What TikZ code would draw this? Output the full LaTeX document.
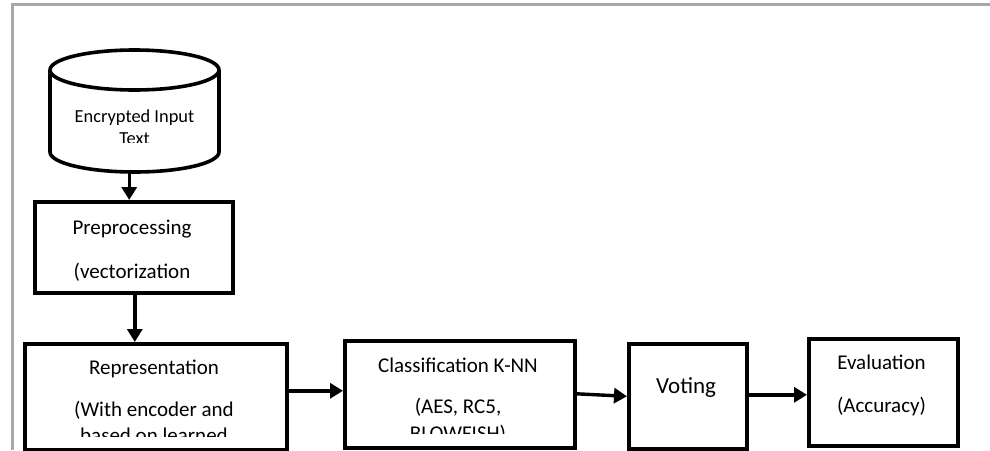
\documentclass[tikz,border=0pt]{standalone}
\usepackage{fontspec}
\setmainfont{Carlito}
\usetikzlibrary{arrows.meta}
\definecolor{framegray}{HTML}{A8A8A8}
\begin{document}
\begin{tikzpicture}[x=1pt,y=-1pt,
  box/.style={draw, line width=3.6pt, rectangle, inner sep=0pt, anchor=north west},
  conn/.style={line width=3.4pt, -{Triangle[length=13pt,width=15pt]}},
  lbl/.style={font=\fontsize{21}{25}\selectfont, inner sep=0pt, anchor=base},
  slbl/.style={font=\fontsize{18.4}{22}\selectfont, inner sep=0pt, anchor=base},
  vlbl/.style={font=\fontsize{23}{27}\selectfont, inner sep=0pt, anchor=base}]
\useasboundingbox (0,0) rectangle (990,450);
% outer frame
\draw[framegray, line width=3pt] (12,450) -- (12,4) -- (990,4);
% cylinder
\node[inner sep=0pt, minimum width=169pt, minimum height=122pt, anchor=north west] (db) at (50,50) {};
\draw[line width=3.6pt] (50,70) -- (50,152) arc[start angle=180, end angle=0, x radius=84.5, y radius=20] -- (219,70);
\draw[line width=3.6pt] (134.5,70) ellipse[x radius=84.5, y radius=20];
\begin{scope}
\clip (50,90) rectangle (219,142);
\node[slbl] (dbt1) at (134.5,122) {Encrypted Input};
\node[slbl] (dbt2) at (134.5,144.5) {Text};
\end{scope}
% boxes
\node[box, minimum width=198pt, minimum height=91pt] (pre) at (33,200) {};
\node[lbl] (pret1) at (132,234) {Preprocessing};
\node[lbl] (pret2) at (132,278) {(vectorization};

\node[box, minimum width=262pt, minimum height=106pt] (rep) at (23,342) {};
\begin{scope}
\clip (23,342) rectangle (285,436);
\node[lbl] (rept1) at (154,374) {Representation};
\node[lbl] (rept2) at (154,416) {(With encoder and};
\node[lbl] (rept3) at (154,442) {based on learned};
\end{scope}

\node[box, minimum width=230pt, minimum height=107pt] (cls) at (343,339) {};
\begin{scope}
\clip (343,339) rectangle (573,433);
\node[lbl] (clst1) at (458,372.5) {Classification K-NN};
\node[lbl] (clst2) at (458,413) {(AES, RC5,};
\node[lbl] (clst3) at (458,440) {BLOWFISH)};
\end{scope}

\node[box, minimum width=118pt, minimum height=105pt] (vot) at (627,342) {};
\node[vlbl] (vott) at (686,393) {Voting};

\node[box, minimum width=149pt, minimum height=107pt] (eva) at (807,337) {};
\node[lbl] (evat1) at (881.5,369) {Evaluation};
\node[lbl] (evat2) at (881.5,412) {(Accuracy)};

% connectors
\coordinate (a1s) at ([xshift=-5.5pt]db.south);
\draw[conn] (a1s) -- (a1s |- pre.north);
\coordinate (a2s) at ([xshift=1pt]pre.south);
\draw[conn] (a2s) -- (a2s |- rep.north);
\coordinate (a3s) at ([yshift=6pt]rep.east);
\draw[conn] (a3s) -- (a3s -| cls.west);
\coordinate (a4s) at ([yshift=0.5pt]cls.east);
\draw[conn] (a4s) -- ([yshift=0pt]vot.west);
\coordinate (a5s) at ([yshift=1.5pt]vot.east);
\draw[conn] (a5s) -- (a5s -| eva.west);
\end{tikzpicture}
\end{document}
